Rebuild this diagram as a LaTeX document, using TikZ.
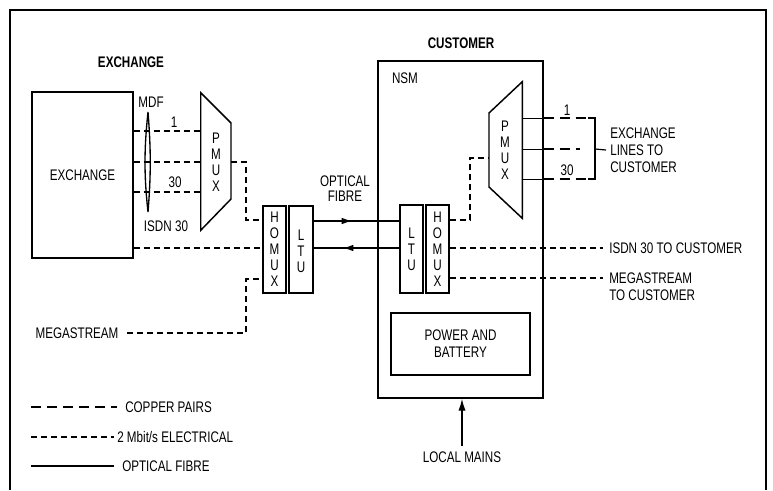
\documentclass[tikz,border=0pt]{standalone}
\usepackage{fontspec}
\setmainfont{Liberation Sans}[FakeStretch=0.76]
\usetikzlibrary{arrows.meta,calc,fit,decorations.markings}
\begin{document}
\begin{tikzpicture}[x=0.75pt,y=-0.75pt,
  every node/.style={font=\fontsize{11.5}{12.8}\selectfont, inner sep=0pt},
  box/.style={draw, line width=1.1pt},
  area/.style={inner sep=0pt},
  stack/.style={align=center, font=\fontsize{11.5}{12}\selectfont},
  cu/.style={line width=0.9pt, dash pattern=on 7.5pt off 4.5pt},
  el/.style={line width=0.9pt, dash pattern=on 4.5pt off 3pt},
  fib/.style={line width=1pt},
  hd/.style={font=\fontsize{11.5}{12.8}\selectfont\bfseries},
  tipR/.style={postaction={decorate, decoration={markings, mark=at position #1 with {\arrow{Latex[length=8pt,width=5pt]}}}}},
]
\useasboundingbox (0,0) rectangle (773,490);
% frame
\draw[line width=1pt] (10,490) -- (10,10) -- (766,10) -- (766,490);

% headings
\node[hd] (hex) at (131,62) {EXCHANGE};
\node[hd] (hcu) at (461,43) {CUSTOMER};

% exchange side
\node[box, fit={(32,92) (133,258)}] (exch) {};
\node at (exch.center) {EXCHANGE};
\node (mdf) at (151,102) {MDF};
\draw[line width=1pt] (148,112) .. controls (144,150) and (144,175) .. (148,212)
                      .. controls (151,175) and (151,150) .. (148,112);
\node[area, fit={(201,93) (231,230)}] (pmuxl) {};
\draw[box] (pmuxl.north west) -- (231,123) -- (231,199) -- (pmuxl.south west) -- cycle;
\node[stack] at (216,162) {P\\M\\U\\X};
\draw[el] (exch.east |- 0,131) -- (pmuxl.west |- 0,131);
\draw[el] (exch.east |- 0,162) -- (pmuxl.west |- 0,162);
\draw[el] (exch.east |- 0,192) -- (pmuxl.west |- 0,192);
\node (n1l) at (174,122) {1};
\node (n30l) at (175,182) {30};
\node (isdnl) at (166,226) {ISDN 30};

\node[box, fit={(263,206) (286,293)}] (homuxL) {};
\node[stack] at (homuxL.center) {H\\O\\M\\U\\X};
\node[box, fit={(289,206) (313,293)}] (ltuL) {};
\node[stack] at ([yshift=-1.5pt]ltuL.center) {L\\T\\U};

\draw[el] (pmuxl.east |- 0,162) -- (246,162) -- (246,220) -- (homuxL.west |- 0,220);
\draw[el] (exch.east |- 0,248) -- (homuxL.west |- 0,248);
\node (megl) at (77,333) {MEGASTREAM};
\draw[el] ([xshift=6.5pt]megl.east) -- (246,333) -- (246,279) -- (homuxL.west |- 0,279);

% customer side
\node[box, fit={(378,61) (543,398)}] (nsm) {};
\node (nsml) at (405,78) {NSM};
\node[box, fit={(400,205) (423,293)}] (ltuR) {};
\node[stack] at (ltuR.center) {L\\T\\U};
\node[box, fit={(426,205) (449,293)}] (homuxR) {};
\node[stack] at (homuxR.center) {H\\O\\M\\U\\X};
\node[area, fit={(489,82) (522,218)}] (pmuxr) {};
\draw[box] (489,113) -- (pmuxr.north east) -- (pmuxr.south east) -- (489,187) -- cycle;
\node[stack] at (505,150) {P\\M\\U\\X};
\node[box, fit={(391,313) (530,375)}, align=center] (power) {};
\node[align=center] at (power.center) {POWER AND\\BATTERY};

% optical fibre
\draw[fib, tipR=0.45] (ltuL.east |- 0,221) -- (ltuR.west |- 0,221);
\draw[fib, tipR=0.66] (ltuR.west |- 0,248) -- (ltuL.east |- 0,248);
\node[align=center, font=\fontsize{11.5}{11.4}\selectfont] (optl) at (345,189) {OPTICAL\\FIBRE};

% customer connections
\draw[el] (homuxR.east |- 0,220) -- (470,220) -- (470,158) -- (pmuxr.west |- 0,158);
\node[anchor=west] (isdnc) at (609,248) {ISDN 30 TO CUSTOMER};
\draw[el] (homuxR.east |- isdnc) -- ([xshift=-4.5pt]isdnc.west);
\node[anchor=west, align=left] (megc) at (609,287) {MEGASTREAM\\TO CUSTOMER};
\coordinate (megcy) at (609,278);
\draw[el] (homuxR.east |- megcy) -- ([xshift=-4.5pt]megcy);

% exchange lines to customer
\draw[line width=0.6pt] (pmuxr.east |- 0,118) -- (nsm.east |- 0,118);
\draw[line width=0.6pt] (pmuxr.east |- 0,149) -- (nsm.east |- 0,149);
\draw[line width=0.6pt] (pmuxr.east |- 0,179) -- (nsm.east |- 0,179);
\draw[cu] (nsm.east |- 0,118) -- (588,118);
\draw[cu] (nsm.east |- 0,149) -- (580,149);
\draw[cu] (nsm.east |- 0,179) -- (588,179);
\draw[line width=0.9pt] (588,118) -- (595,118) -- (595,179) -- (588,179);
\node[anchor=west, align=left] (exl) at (610,150) {EXCHANGE\\LINES TO\\CUSTOMER};
\draw[line width=0.9pt] (595,149) -- ([xshift=-3pt]exl.west);
\node (n1r) at (567,110) {1};
\node (n30r) at (567,170) {30};

% local mains
\node (mains) at (462,457) {LOCAL MAINS};
\draw[line width=1.1pt, -{Latex[length=9pt,width=5.5pt]}] ([yshift=4pt]mains.north) -- (nsm.south -| mains.north);

% legend
\node[anchor=west] (lcu) at (125,407) {COPPER PAIRS};
\draw[cu] (31,407) -- ([xshift=-6pt]lcu.west);
\node[anchor=west] (lel) at (117,437) {2 Mbit/s ELECTRICAL};
\draw[el] (31,437) -- ([xshift=-2pt]lel.west);
\node[anchor=west] (lfi) at (122,466) {OPTICAL FIBRE};
\draw[fib] (31,466) -- ([xshift=-6pt]lfi.west);
\end{tikzpicture}
\end{document}
